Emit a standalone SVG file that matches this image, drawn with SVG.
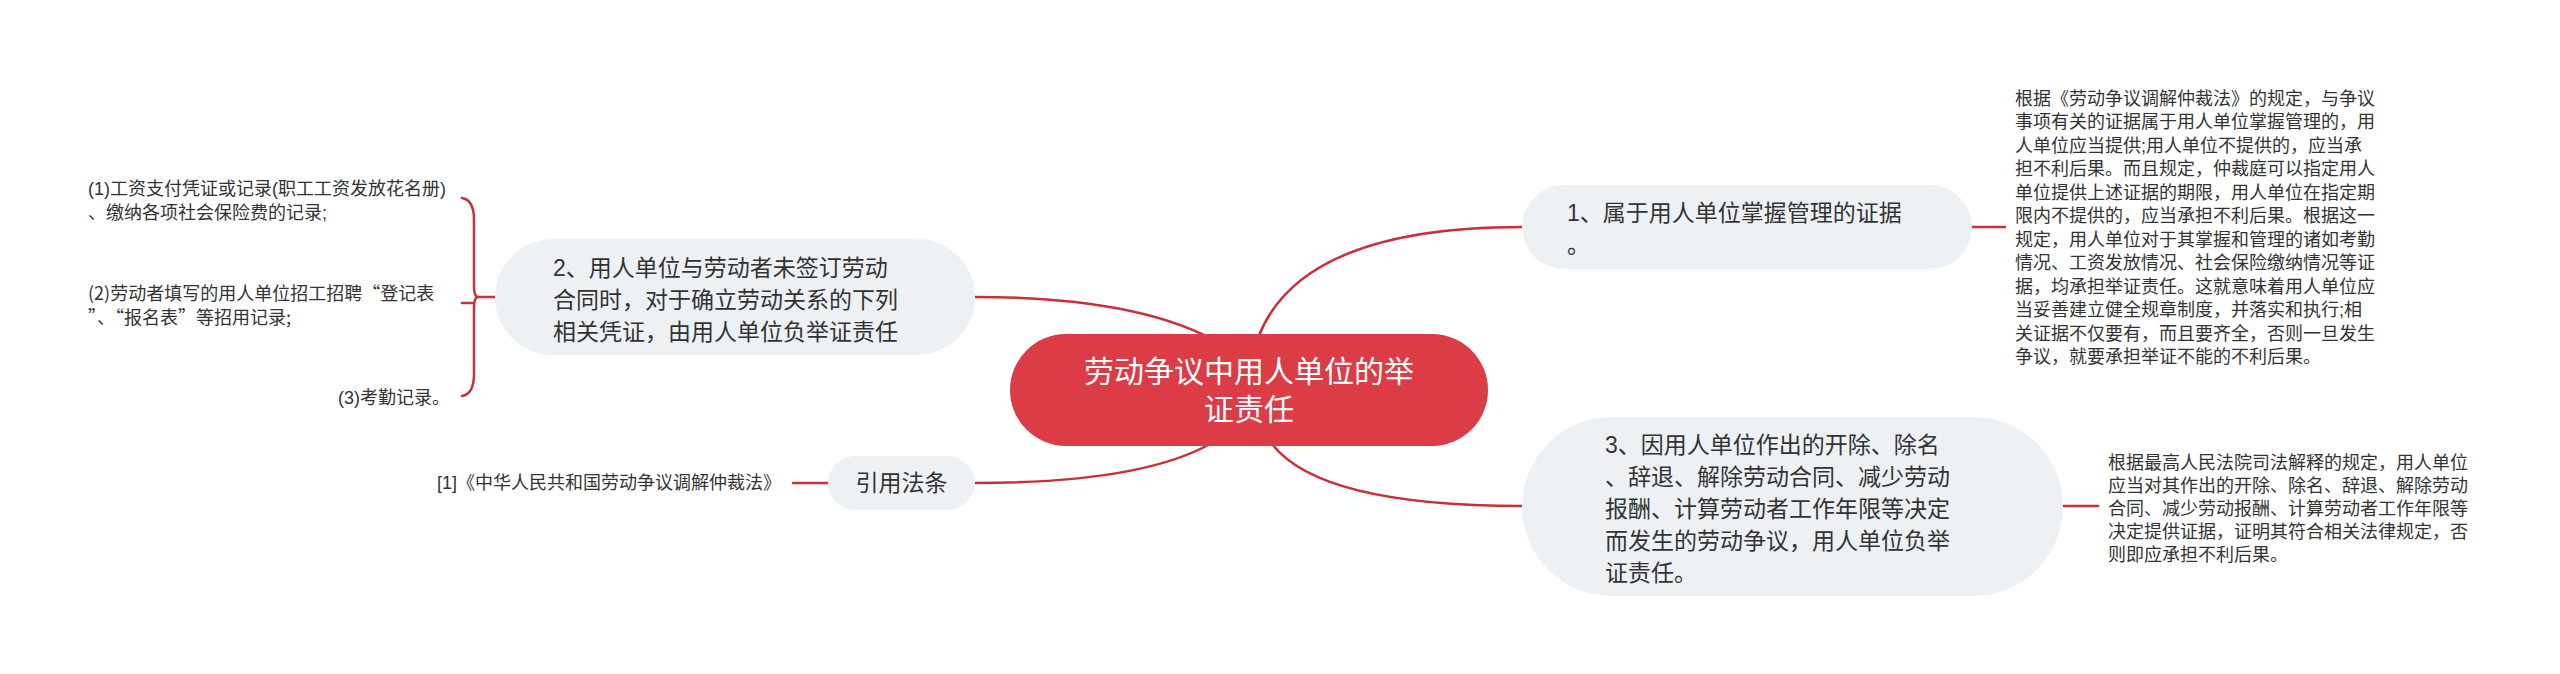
<svg xmlns="http://www.w3.org/2000/svg" width="2560" height="674" viewBox="0 0 2560 674">
<style>
.conn{fill:none;stroke:#c8313a;stroke-width:2.5;stroke-linecap:round}
.pill{fill:#eef1f4}
.rootpill{fill:#dc3c45}
.t{font-family:"Liberation Sans","Noto Sans CJK SC",sans-serif;fill:#333}
.cjk{font-family:"Noto Sans CJK SC","Liberation Sans",sans-serif}
.fw{font-feature-settings:"fwid" 1}
.f23{font-size:23px}
.f18{font-size:18px}
.f30{font-size:30px;fill:#fff}
</style>
<rect width="2560" height="674" fill="#fff"/>
<g id="connectors">
<path class="conn" d="M1258,338 Q1300,227 1522,227"/>
<path class="conn" d="M1210,338 Q1130,297 975,297"/>
<path class="conn" d="M1210,444 Q1140,483 975,483"/>
<path class="conn" d="M1272,444 Q1320,506 1522,506"/>
<path class="conn" d="M1972,227 L2005,227"/>
<path class="conn" d="M2063,506 L2098,506"/>
<path class="conn" d="M828,483 L793,483"/>
<path class="conn" d="M495,297 L478,297"/>
<path class="conn" d="M462,198 Q474,200 474,220 L474,285 Q474,297 478,297 Q474,297 474,309 L474,374 Q474,394 462,396"/>
<path class="conn" d="M462,303 L474,303"/>
</g>
<g id="root">
<rect class="rootpill" x="1010" y="334" width="478" height="112" rx="56"/>
<text class="t f30" text-anchor="middle"><tspan x="1249" y="382">劳动争议中用人单位的举</tspan><tspan x="1249" y="420">证责任</tspan></text>
</g>
<g id="node1">
<rect class="pill" x="1522" y="185" width="450" height="84" rx="42"/>
<text class="t f23"><tspan x="1567" y="221">1、属于用人单位掌握管理的证据</tspan><tspan x="1567" y="253">。</tspan></text>
</g>
<g id="node1-detail">
<text class="t f18"><tspan x="2015" y="104.5">根据《劳动争议调解仲裁法》的规定，与争议</tspan><tspan x="2015" dy="23.5">事项有关的证据属于用人单位掌握管理的，用</tspan><tspan x="2015" dy="23.5">人单位应当提供;用人单位不提供的，应当承</tspan><tspan x="2015" dy="23.5">担不利后果。而且规定，仲裁庭可以指定用人</tspan><tspan x="2015" dy="23.5">单位提供上述证据的期限，用人单位在指定期</tspan><tspan x="2015" dy="23.5">限内不提供的，应当承担不利后果。根据这一</tspan><tspan x="2015" dy="23.5">规定，用人单位对于其掌握和管理的诸如考勤</tspan><tspan x="2015" dy="23.5">情况、工资发放情况、社会保险缴纳情况等证</tspan><tspan x="2015" dy="23.5">据，均承担举证责任。这就意味着用人单位应</tspan><tspan x="2015" dy="23.5">当妥善建立健全规章制度，并落实和执行;相</tspan><tspan x="2015" dy="23.5">关证据不仅要有，而且要齐全，否则一旦发生</tspan><tspan x="2015" dy="23.5">争议，就要承担举证不能的不利后果。</tspan></text>
</g>
<g id="node2">
<rect class="pill" x="495" y="239" width="480" height="116" rx="58"/>
<text class="t f23"><tspan x="553" y="276">2、用人单位与劳动者未签订劳动</tspan><tspan x="553" y="308">合同时，对于确立劳动关系的下列</tspan><tspan x="553" y="340">相关凭证，由用人单位负举证责任</tspan></text>
</g>
<g id="node2-child1">
<text class="t f18"><tspan x="88" y="194.5">(1)工资支付凭证或记录(职工工资发放花名册)</tspan><tspan x="88" y="218.5">、缴纳各项社会保险费的记录;</tspan></text>
</g>
<g id="node2-child2">
<text class="t cjk f18"><tspan x="88" y="299.5">(2)劳动者填写的用人单位招工招聘<tspan class="fw">“</tspan>登记表</tspan><tspan x="88" y="323.5"><tspan class="fw">”</tspan>、<tspan class="fw">“</tspan>报名表<tspan class="fw">”</tspan>等招用记录;</tspan></text>
</g>
<g id="node2-child3">
<text class="t f18"><tspan x="338" y="404">(3)考勤记录。</tspan></text>
</g>
<g id="node3">
<rect class="pill" x="1522" y="417" width="541" height="179" rx="89.5"/>
<text class="t f23"><tspan x="1605" y="453">3、因用人单位作出的开除、除名</tspan><tspan x="1605" y="485">、辞退、解除劳动合同、减少劳动</tspan><tspan x="1605" y="517">报酬、计算劳动者工作年限等决定</tspan><tspan x="1605" y="549">而发生的劳动争议，用人单位负举</tspan><tspan x="1605" y="581">证责任。</tspan></text>
</g>
<g id="node3-detail">
<text class="t f18"><tspan x="2108" y="468.5">根据最高人民法院司法解释的规定，用人单位</tspan><tspan x="2108" dy="23">应当对其作出的开除、除名、辞退、解除劳动</tspan><tspan x="2108" dy="23">合同、减少劳动报酬、计算劳动者工作年限等</tspan><tspan x="2108" dy="23">决定提供证据，证明其符合相关法律规定，否</tspan><tspan x="2108" dy="23">则即应承担不利后果。</tspan></text>
</g>
<g id="node4">
<rect class="pill" x="828" y="456" width="147" height="54" rx="27"/>
<text class="t f23" text-anchor="middle" x="901.5" y="491">引用法条</text>
</g>
<g id="node4-child">
<text class="t f18" text-anchor="end" x="781" y="489">[1]《中华人民共和国劳动争议调解仲裁法》</text>
</g>
</svg>
